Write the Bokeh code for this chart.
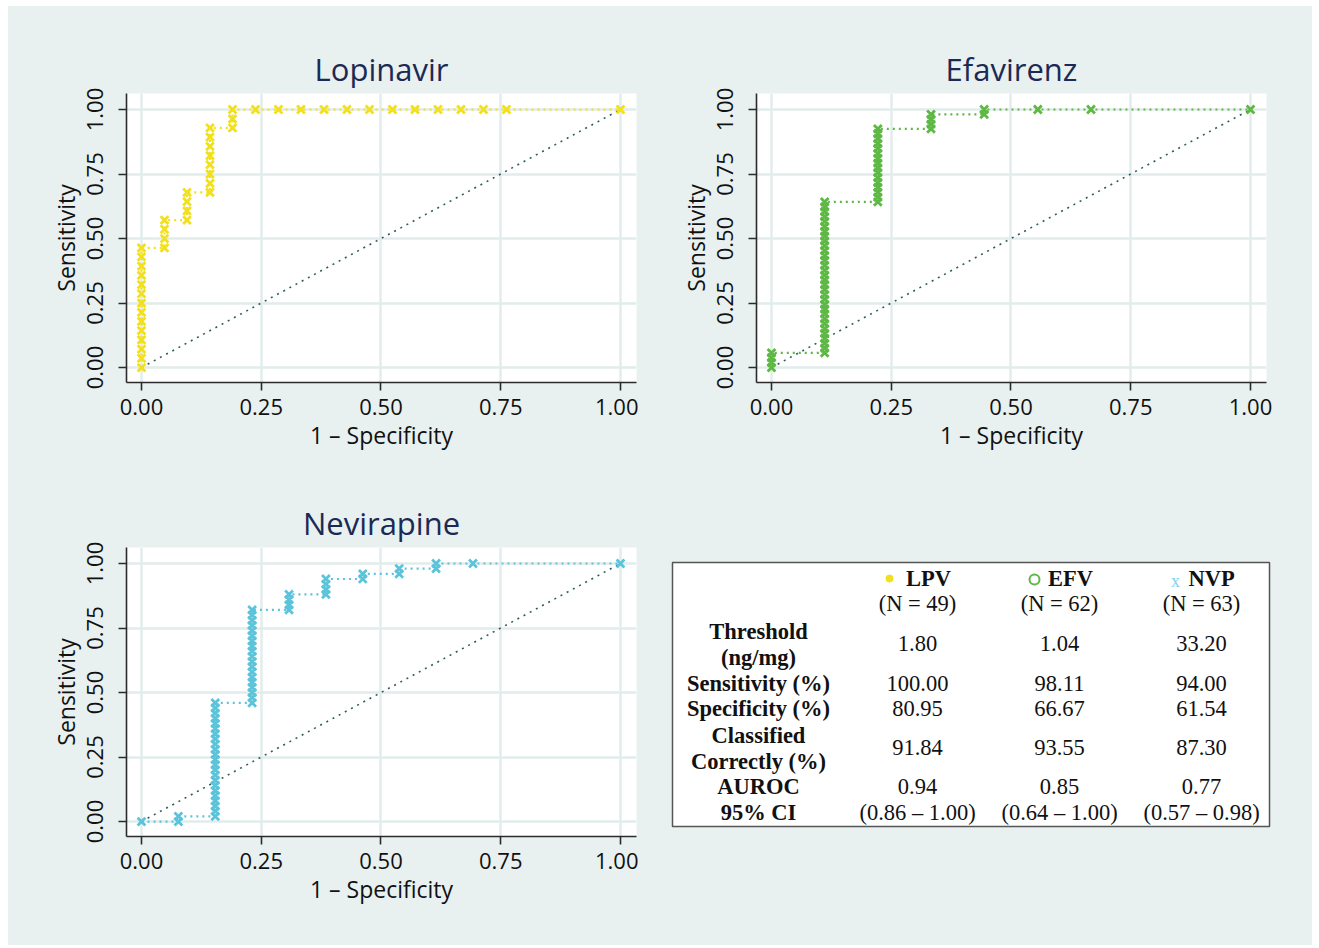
from bokeh.plotting import figure
from bokeh.layouts import column, row
from bokeh.models import Range1d, FixedTicker
from bokeh.embed import file_html
from bokeh.resources import INLINE
from bokeh.core.properties import value

# ---------------- data ----------------
tick_vals = [0.0, 0.25, 0.5, 0.75, 1.0]
tick_labels = ["0.00", "0.25", "0.50", "0.75", "1.00"]
diag_x = [0.0, 1.0]
diag_y = [0.0, 1.0]

# Lopinavir (1 - specificity, sensitivity)
lpv_fpr = [0.000, 0.000, 0.000, 0.000, 0.000, 0.000, 0.000, 0.000, 0.000, 0.000, 0.000, 0.000, 0.000, 0.000,
           0.048, 0.048, 0.048, 0.048,
           0.095, 0.095, 0.095, 0.095,
           0.143, 0.143, 0.143, 0.143, 0.143, 0.143, 0.143, 0.143,
           0.190, 0.190, 0.190,
           0.238, 0.286, 0.333, 0.381, 0.429, 0.476, 0.524, 0.571, 0.619, 0.667, 0.714, 0.762, 1.000]
lpv_tpr = [0.000, 0.036, 0.071, 0.107, 0.143, 0.179, 0.214, 0.250, 0.286, 0.321, 0.357, 0.393, 0.429, 0.464,
           0.464, 0.500, 0.536, 0.571,
           0.571, 0.607, 0.643, 0.679,
           0.679, 0.714, 0.750, 0.786, 0.821, 0.857, 0.893, 0.929,
           0.929, 0.964, 1.000,
           1.000, 1.000, 1.000, 1.000, 1.000, 1.000, 1.000, 1.000, 1.000, 1.000, 1.000, 1.000, 1.000]

# Efavirenz
efv_fpr = [0.000, 0.000, 0.000, 0.000,
           0.111, 0.111, 0.111, 0.111, 0.111, 0.111, 0.111, 0.111, 0.111, 0.111, 0.111, 0.111, 0.111, 0.111, 0.111, 0.111,
           0.111, 0.111, 0.111, 0.111, 0.111, 0.111, 0.111, 0.111, 0.111, 0.111, 0.111, 0.111, 0.111, 0.111, 0.111, 0.111,
           0.222, 0.222, 0.222, 0.222, 0.222, 0.222, 0.222, 0.222, 0.222, 0.222, 0.222, 0.222, 0.222, 0.222, 0.222, 0.222,
           0.333, 0.333, 0.333, 0.333,
           0.444, 0.444,
           0.556, 0.667, 1.000]
efv_tpr = [0.000, 0.019, 0.038, 0.057,
           0.057, 0.075, 0.094, 0.113, 0.132, 0.151, 0.170, 0.189, 0.208, 0.226, 0.245, 0.264, 0.283, 0.302, 0.321, 0.340,
           0.358, 0.377, 0.396, 0.415, 0.434, 0.453, 0.472, 0.491, 0.509, 0.528, 0.547, 0.566, 0.585, 0.604, 0.623, 0.642,
           0.642, 0.660, 0.679, 0.698, 0.717, 0.736, 0.755, 0.774, 0.792, 0.811, 0.830, 0.849, 0.868, 0.887, 0.906, 0.925,
           0.925, 0.943, 0.962, 0.981,
           0.981, 1.000,
           1.000, 1.000, 1.000]

# Nevirapine
nvp_fpr = [0.000,
           0.077, 0.077,
           0.154, 0.154, 0.154, 0.154, 0.154, 0.154, 0.154, 0.154, 0.154, 0.154, 0.154, 0.154,
           0.154, 0.154, 0.154, 0.154, 0.154, 0.154, 0.154, 0.154, 0.154, 0.154, 0.154,
           0.231, 0.231, 0.231, 0.231, 0.231, 0.231, 0.231, 0.231, 0.231, 0.231,
           0.231, 0.231, 0.231, 0.231, 0.231, 0.231, 0.231, 0.231, 0.231,
           0.308, 0.308, 0.308, 0.308,
           0.385, 0.385, 0.385, 0.385,
           0.462, 0.462,
           0.538, 0.538,
           0.615, 0.615,
           0.692, 1.000]
nvp_tpr = [0.00,
           0.00, 0.02,
           0.02, 0.04, 0.06, 0.08, 0.10, 0.12, 0.14, 0.16, 0.18, 0.20, 0.22, 0.24,
           0.26, 0.28, 0.30, 0.32, 0.34, 0.36, 0.38, 0.40, 0.42, 0.44, 0.46,
           0.46, 0.48, 0.50, 0.52, 0.54, 0.56, 0.58, 0.60, 0.62, 0.64,
           0.66, 0.68, 0.70, 0.72, 0.74, 0.76, 0.78, 0.80, 0.82,
           0.82, 0.84, 0.86, 0.88,
           0.88, 0.90, 0.92, 0.94,
           0.94, 0.96,
           0.96, 0.98,
           0.98, 1.00,
           1.00, 1.00]

# Table
tbl_drugs = ["LPV", "EFV", "NVP"]
tbl_n = ["(N = 49)", "(N = 62)", "(N = 63)"]
tbl_threshold = ["1.80", "1.04", "33.20"]
tbl_sens = ["100.00", "98.11", "94.00"]
tbl_spec = ["80.95", "66.67", "61.54"]
tbl_classified = ["91.84", "93.55", "87.30"]
tbl_auroc = ["0.94", "0.85", "0.77"]
tbl_ci = ["(0.86 \u2013 1.00)", "(0.64 \u2013 1.00)", "(0.57 \u2013 0.98)"]

# ---------------- style ----------------
BG = "#e8f0f0"
GRID = "#e2ecec"
AXIS = "#2b2b2b"
TITLE_C = "#1b2a55"
DIAG_C = "#2f5d5d"
C_LPV = "#f2e01c"
C_EFV = "#5db844"
C_NVP = "#5cc4da"
SANS = "Open Sans"
SERIF = "Liberation Serif"


def roc_fig(title, fpr, tpr, color, width, height, mbl, mbr, mbt, mbb):
    p = figure(width=width, height=height,
               x_range=Range1d(-0.0313, 1.0334), y_range=Range1d(-0.058, 1.062),
               output_backend="svg", toolbar_location=None,
               min_border_left=mbl, min_border_right=mbr,
               min_border_top=mbt, min_border_bottom=mbb)
    p.border_fill_color = BG
    p.background_fill_color = "white"
    p.outline_line_color = None

    p.title.text = title
    p.title.align = "center"
    p.title.text_font = SANS
    p.title.text_font_size = "31px"
    p.title.text_font_style = "normal"
    p.title.text_color = TITLE_C
    p.title.standoff = 8

    overrides = {v: l for v, l in zip(tick_vals, tick_labels)}
    for ax in (p.xaxis[0], p.yaxis[0]):
        ax.ticker = FixedTicker(ticks=tick_vals)
        ax.major_label_overrides = overrides
        ax.minor_tick_line_color = None
        ax.major_tick_in = 0
        ax.major_tick_out = 8
        ax.axis_line_color = AXIS
        ax.axis_line_width = 1.6
        ax.major_tick_line_color = AXIS
        ax.major_tick_line_width = 1.6
        ax.major_label_text_font = SANS
        ax.major_label_text_font_size = "22px"
        ax.major_label_text_color = "#111111"
        ax.axis_label_text_font = SANS
        ax.axis_label_text_font_size = "23px"
        ax.axis_label_text_font_style = "normal"
        ax.axis_label_text_color = "#111111"
    p.xaxis.axis_label = "1 \u2013 Specificity"
    p.yaxis.axis_label = "Sensitivity"
    p.yaxis.major_label_orientation = "vertical"
    p.xaxis.major_label_standoff = 8
    p.yaxis.major_label_standoff = 15
    p.xaxis.axis_label_standoff = 1
    p.yaxis.axis_label_standoff = 3

    p.grid.grid_line_color = GRID
    p.grid.grid_line_width = 2.5

    p.line(diag_x, diag_y, line_color=DIAG_C, line_dash="2 5", line_width=1.6)
    p.line(fpr, tpr, line_color=color, line_dash="2 4", line_width=2.2)
    p.scatter(fpr, tpr, marker="x", size=11, line_color=color, line_width=2.8)
    return p


p1 = roc_fig("Lopinavir", lpv_fpr, lpv_tpr, C_LPV, 630, 462, 118, 2, 87, 86)
p2 = roc_fig("Efavirenz", efv_fpr, efv_tpr, C_EFV, 674, 462, 118, 46, 87, 86)
p3 = roc_fig("Nevirapine", nvp_fpr, nvp_tpr, C_NVP, 630, 477, 118, 2, 79, 109)

# ---------------- table panel ----------------
# frame is vertically aligned with the Nevirapine frame; box drawn inside it
p4 = figure(width=674, height=477, x_range=Range1d(-3, 600), y_range=Range1d(274, -15),
            output_backend="svg", toolbar_location=None,
            x_axis_type=None, y_axis_type=None,
            min_border_left=31, min_border_right=40, min_border_top=79, min_border_bottom=109)
p4.border_fill_color = BG
p4.background_fill_color = BG
p4.outline_line_color = None
p4.grid.grid_line_color = None
p4.quad(left=[0], right=[597], top=[0], bottom=[264], fill_color="white",
        line_color="#555555", line_width=1.5)

col_x = [245, 387, 529]
hdr_x = [256, 398, 539]
sym_x = [217, 362, 503]
lab_x = 86
FS = value("22.5px")


def put(xs, y, texts, bold=False, color="#111111"):
    p4.text(x=xs, y=[y] * len(xs), text=texts, text_font=value(SERIF), text_font_size=FS,
            text_align="center", text_baseline="middle",
            text_font_style="bold" if bold else "normal", text_color=color)


put(hdr_x, 16, tbl_drugs, bold=True)
p4.scatter([sym_x[0]], [16], marker="circle", size=7, fill_color=C_LPV, line_color=C_LPV)
p4.scatter([sym_x[1]], [17], marker="circle", size=10, fill_color=None, line_color=C_EFV, line_width=2)
p4.text(x=[sym_x[2]], y=[18], text=["x"], text_font=value(SERIF), text_font_size=value("18px"),
        text_align="center", text_baseline="middle", text_color="#7fd3ef")
put(col_x, 41, tbl_n)
put([lab_x], 69, ["Threshold"], bold=True)
put([lab_x], 95, ["(ng/mg)"], bold=True)
put(col_x, 81, tbl_threshold)
put([lab_x], 121, ["Sensitivity (%)"], bold=True)
put(col_x, 121, tbl_sens)
put([lab_x], 146, ["Specificity (%)"], bold=True)
put(col_x, 146, tbl_spec)
put([lab_x], 173, ["Classified"], bold=True)
put([lab_x], 199, ["Correctly (%)"], bold=True)
put(col_x, 185, tbl_classified)
put([lab_x], 224, ["AUROC"], bold=True)
put(col_x, 224, tbl_auroc)
put([lab_x], 250, ["95% CI"], bold=True)
put(col_x, 250, tbl_ci)

bgstyle = {"background-color": BG}
r1 = row(p1, p2, spacing=0, styles=bgstyle)
r2 = row(p3, p4, spacing=0, styles=bgstyle)
layout = column(r1, r2, spacing=0, styles=bgstyle, margin=(6, 0, 0, 8))

open("out.html", "w").write(file_html(layout, INLINE))
